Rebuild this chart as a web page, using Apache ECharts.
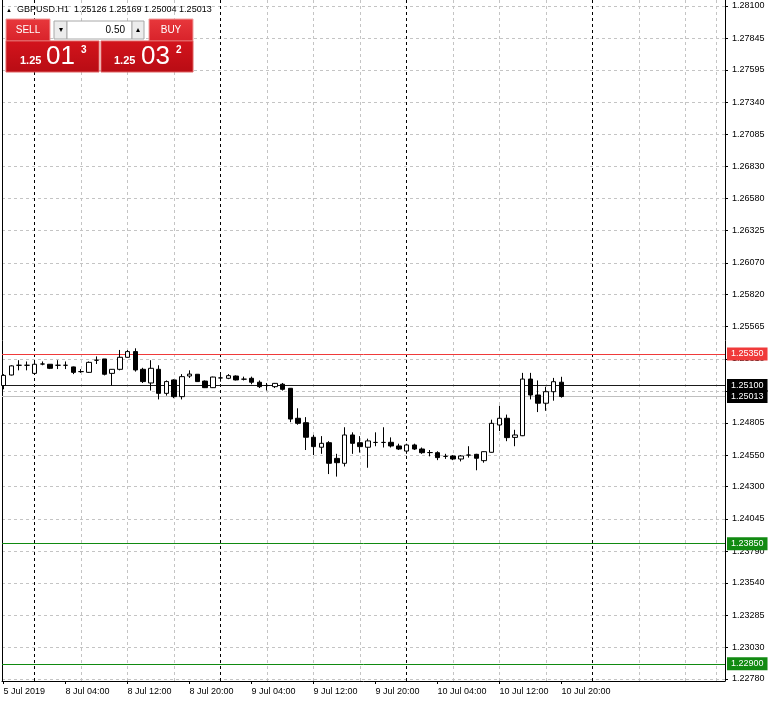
<!DOCTYPE html>
<html><head><meta charset="utf-8">
<script src="https://cdn.jsdelivr.net/npm/echarts@6/dist/echarts.min.js"></script>
<style>html,body{margin:0;padding:0;background:#fff}#c{width:770px;height:702px}</style>
</head><body><div id="c"></div><script>
// ---------- data ----------
const symbolName = 'GBPUSD.H1';
const headerOHLC = ['1.25126', '1.25169', '1.25004', '1.25013'];
const opens  = [1.2510,1.25183,1.2526,1.2526,1.25196,1.2527,1.25268,1.2526,1.2526,1.25247,1.2521,1.25204,1.2530,1.25310,1.25196,1.25228,1.25323,1.25368,1.25228,1.25120,1.25228,1.25038,1.25144,1.25012,1.25175,1.25189,1.25135,1.25083,1.2516,1.25157,1.25175,1.2515,1.25157,1.25126,1.2510,1.25091,1.25110,1.25078,1.24841,1.24806,1.24691,1.24612,1.24648,1.24524,1.24485,1.24709,1.24648,1.24612,1.2465,1.2465,1.24651,1.24622,1.24582,1.24630,1.24598,1.2457,1.24569,1.2454,1.24543,1.24519,1.2455,1.24556,1.24506,1.24572,1.24788,1.24841,1.24690,1.24703,1.25151,1.25025,1.24960,1.25051,1.25126];
const closes = [1.2518,1.25255,1.2526,1.2526,1.25268,1.2527,1.25236,1.2526,1.2526,1.25204,1.2521,1.25283,1.2530,1.25189,1.25228,1.25323,1.25368,1.25223,1.25131,1.25236,1.25038,1.25131,1.25012,1.25170,1.25190,1.25131,1.25083,1.25167,1.2516,1.25178,1.25144,1.2515,1.25126,1.25091,1.2510,1.25117,1.25070,1.24835,1.24801,1.24691,1.24617,1.24643,1.24485,1.24490,1.24709,1.24643,1.24617,1.24662,1.2465,1.2465,1.24622,1.24598,1.24630,1.24598,1.24569,1.2457,1.24530,1.2454,1.24519,1.24543,1.2455,1.24525,1.24577,1.24801,1.24841,1.24688,1.24709,1.25151,1.25025,1.24960,1.25051,1.25130,1.25013];
const lows   = [1.2507,1.2518,1.2522,1.2522,1.2519,1.2526,1.2523,1.2523,1.2523,1.2519,1.2520,1.2520,1.2527,1.2518,1.2510,1.2522,1.2532,1.2521,1.2512,1.2506,1.2499,1.2502,1.2500,1.2499,1.2516,1.2513,1.2508,1.2508,1.2513,1.2515,1.2514,1.2514,1.2511,1.2508,1.2506,1.2508,1.2506,1.2481,1.2479,1.2459,1.2455,1.2456,1.2440,1.2438,1.2446,1.2456,1.2457,1.2445,1.2462,1.2461,1.2461,1.2459,1.2456,1.2459,1.2456,1.2454,1.2451,1.2452,1.2451,1.2450,1.2453,1.2443,1.2449,1.2457,1.2474,1.2466,1.2462,1.2470,1.2499,1.2489,1.2490,1.2498,1.25004];
const highs  = [1.2519,1.2526,1.2530,1.2529,1.2528,1.2529,1.2527,1.2530,1.2529,1.2525,1.2523,1.2529,1.2533,1.2531,1.2523,1.25381,1.2538,1.25394,1.2524,1.2530,1.2526,1.2514,1.2515,1.2519,1.2522,1.2519,1.2514,1.2517,1.2519,1.2519,1.2518,1.2517,1.2517,1.2514,1.2512,1.2512,1.2512,1.2508,1.2492,1.2485,1.2471,1.2470,1.2466,1.2456,1.2477,1.2473,1.2470,1.2468,1.2473,1.2477,1.2469,1.2464,1.2464,1.2464,1.2461,1.2459,1.2458,1.2456,1.2455,1.2455,1.2462,1.2456,1.2458,1.2483,1.2494,1.2487,1.2475,1.2520,1.2520,1.2514,1.2509,1.2516,1.25169];
const xTickBars   = [0, 8, 16, 24, 32, 40, 48, 56, 64, 72];
const xTickLabels = ['5 Jul 2019','8 Jul 04:00','8 Jul 12:00','8 Jul 20:00','9 Jul 04:00','9 Jul 12:00','9 Jul 20:00','10 Jul 04:00','10 Jul 12:00','10 Jul 20:00'];
const gridBars      = [10, 16, 22, 34, 40, 46, 58, 64, 70, 82, 88, 92];
const separatorBars = [4, 28, 52, 76];
const yTickLabels = ['1.22780','1.23030','1.23285','1.23540','1.23790','1.24045','1.24300','1.24550','1.24805','1.25055','1.25310','1.25565','1.25820','1.26070','1.26325','1.26580','1.26830','1.27085','1.27340','1.27595','1.27845','1.28100'];
const levelValues = [1.25350, 1.25100, 1.25013, 1.23850, 1.22900];
const levelColors = ['#f03a3a', '#000000', '#000000', '#118a11', '#118a11'];
const levelLineColors = ['#f03a3a', '#1a1a1a', '#c0c0c0', '#118a11', '#118a11'];
const sellPrice = ['1.25', '01', '3'];
const buyPrice  = ['1.25', '03', '2'];
const lotSize = '0.50';

// ---------- chart ----------
const FONT = '"Liberation Sans", Arial, sans-serif';
const yTickValues = yTickLabels.map(Number);
const candles = opens.map((o, i) => [i, o, closes[i], lows[i], highs[i]]);
const Y_MIN = 1.227642, Y_MAX = 1.281474;

const chart = echarts.init(document.getElementById('c'), null, {renderer: 'canvas'});

function txt(x, y, text, size, opts) {
  return Object.assign({type: 'text', x: x, y: y, silent: true, z: 100,
    style: Object.assign({text: text, fill: '#fff', font: (opts && opts.weight ? opts.weight + ' ' : '') + size + 'px ' + FONT,
      textAlign: 'left', textVerticalAlign: 'middle'}, opts && opts.style)});
}
const grad = (a, b) => ({type: 'linear', x: 0, y: 0, x2: 0, y2: 1, colorStops: [{offset: 0, color: a}, {offset: 1, color: b}]});

const option = {
  animation: false,
  backgroundColor: '#ffffff',
  grid: {left: 2, right: 45, top: 0, bottom: 21},
  xAxis: {
    type: 'value', min: -0.194, max: 93.097,
    axisLine: {show: true, onZero: false, lineStyle: {color: '#000', width: 1}},
    axisTick: {show: true, customValues: xTickBars, length: 3, lineStyle: {color: '#000'}},
    axisLabel: {customValues: xTickBars, align: 'left', margin: 6, color: '#000', fontSize: 9, fontFamily: FONT,
      formatter: v => { const i = xTickBars.indexOf(Math.round(v)); return i >= 0 ? xTickLabels[i] : ''; }},
    splitLine: {show: false}
  },
  yAxis: [{
    type: 'value', position: 'right', min: Y_MIN, max: Y_MAX,
    axisLine: {show: true, onZero: false, lineStyle: {color: '#000', width: 1}},
    axisTick: {show: true, customValues: yTickValues, length: 3, lineStyle: {color: '#000'}},
    axisLabel: {customValues: yTickValues, margin: 7, color: '#000', fontSize: 9, fontFamily: FONT,
      formatter: v => { let bi = 0, bd = 1; yTickValues.forEach((t, i) => { const d = Math.abs(t - v); if (d < bd) { bd = d; bi = i; } }); return yTickLabels[bi]; }},
    splitLine: {show: true, lineStyle: {color: '#c4c4c4', width: 1, type: [3, 3]}}
  }, {
    type: 'value', position: 'left', min: Y_MIN, max: Y_MAX,
    axisLine: {show: true, onZero: false, lineStyle: {color: '#000', width: 1}},
    axisTick: {show: false}, axisLabel: {show: false}, splitLine: {show: false}
  }],
  series: [
    {
      type: 'line', data: [], silent: true, z: 1,
      markLine: {silent: true, symbol: ['none', 'none'], animation: false, z: 1, precision: 5,
        label: {show: false},
        data: gridBars.map(b => ({xAxis: b, lineStyle: {color: '#c4c4c4', width: 1, type: [3, 3]}}))
          .concat(separatorBars.map(b => ({xAxis: b, lineStyle: {color: '#000', width: 1, type: [3, 3]}})))}
    },
    {
      type: 'line', data: [], silent: true, z: 2,
      markLine: {silent: true, symbol: ['none', 'none'], animation: false, z: 2, precision: 5,
        data: levelValues.map((v, i) => ({
          yAxis: v,
          lineStyle: {color: levelLineColors[i], width: 1, type: 'solid'},
          label: {show: true, position: 'end', distance: 2, formatter: () => v.toFixed(5),
            color: '#fff', backgroundColor: levelColors[i], padding: [2, 4, 2, 4],
            fontSize: 9, fontFamily: FONT}
        }))}
    },
    {
      type: 'candlestick', data: candles, z: 3,
      dimensions: ['bar', 'open', 'close', 'lowest', 'highest'],
      encode: {x: 0, y: [1, 2, 3, 4]},
      barWidth: 5,
      itemStyle: {color: '#ffffff', color0: '#000000', borderColor: '#000000', borderColor0: '#000000', borderWidth: 1}
    }
  ],
  graphic: [
    txt(6, 10, '\u25B2', 6, {style: {fill: '#000'}}),
    txt(17, 10, symbolName + '  ' + headerOHLC.join(' '), 9, {style: {fill: '#000'}}),
    // SELL / BUY buttons
    {type: 'rect', silent: true, z: 100, shape: {x: 6, y: 19, width: 44, height: 22}, style: {fill: grad('#e8383c', '#d8222a'), stroke: '#f0a0a0', lineWidth: 1}},
    txt(28, 30, 'SELL', 10, {style: {textAlign: 'center'}}),
    {type: 'rect', silent: true, z: 100, shape: {x: 149, y: 19, width: 44, height: 22}, style: {fill: grad('#e8383c', '#d8222a'), stroke: '#f0a0a0', lineWidth: 1}},
    txt(171, 30, 'BUY', 10, {style: {textAlign: 'center'}}),
    // lot spinner
    {type: 'rect', silent: true, z: 100, shape: {x: 54, y: 21, width: 13, height: 18}, style: {fill: '#ececec', stroke: '#a8a8a8', lineWidth: 1}},
    txt(60.5, 30, '\u25BE', 8, {style: {fill: '#000', textAlign: 'center'}}),
    {type: 'rect', silent: true, z: 100, shape: {x: 67, y: 21, width: 65, height: 18}, style: {fill: '#ffffff', stroke: '#a8a8a8', lineWidth: 1}},
    txt(125, 30, lotSize, 10, {style: {fill: '#000', textAlign: 'right'}}),
    {type: 'rect', silent: true, z: 100, shape: {x: 132, y: 21, width: 12, height: 18}, style: {fill: '#ececec', stroke: '#a8a8a8', lineWidth: 1}},
    txt(138, 30, '\u25B4', 8, {style: {fill: '#000', textAlign: 'center'}}),
    // price boxes
    {type: 'rect', silent: true, z: 100, shape: {x: 6, y: 41, width: 93, height: 31}, style: {fill: grad('#d3141c', '#b80c14'), stroke: '#e06060', lineWidth: 1}},
    {type: 'rect', silent: true, z: 100, shape: {x: 101, y: 41, width: 92, height: 31}, style: {fill: grad('#d3141c', '#b80c14'), stroke: '#e06060', lineWidth: 1}},
    txt(20, 61, sellPrice[0], 11, {weight: 'bold'}),
    txt(46, 57, sellPrice[1], 26),
    txt(81, 50, sellPrice[2], 10, {weight: 'bold'}),
    txt(114, 61, buyPrice[0], 11, {weight: 'bold'}),
    txt(141, 57, buyPrice[1], 26),
    txt(176, 50, buyPrice[2], 10, {weight: 'bold'})
  ]
};
chart.setOption(option);
</script></body></html>
